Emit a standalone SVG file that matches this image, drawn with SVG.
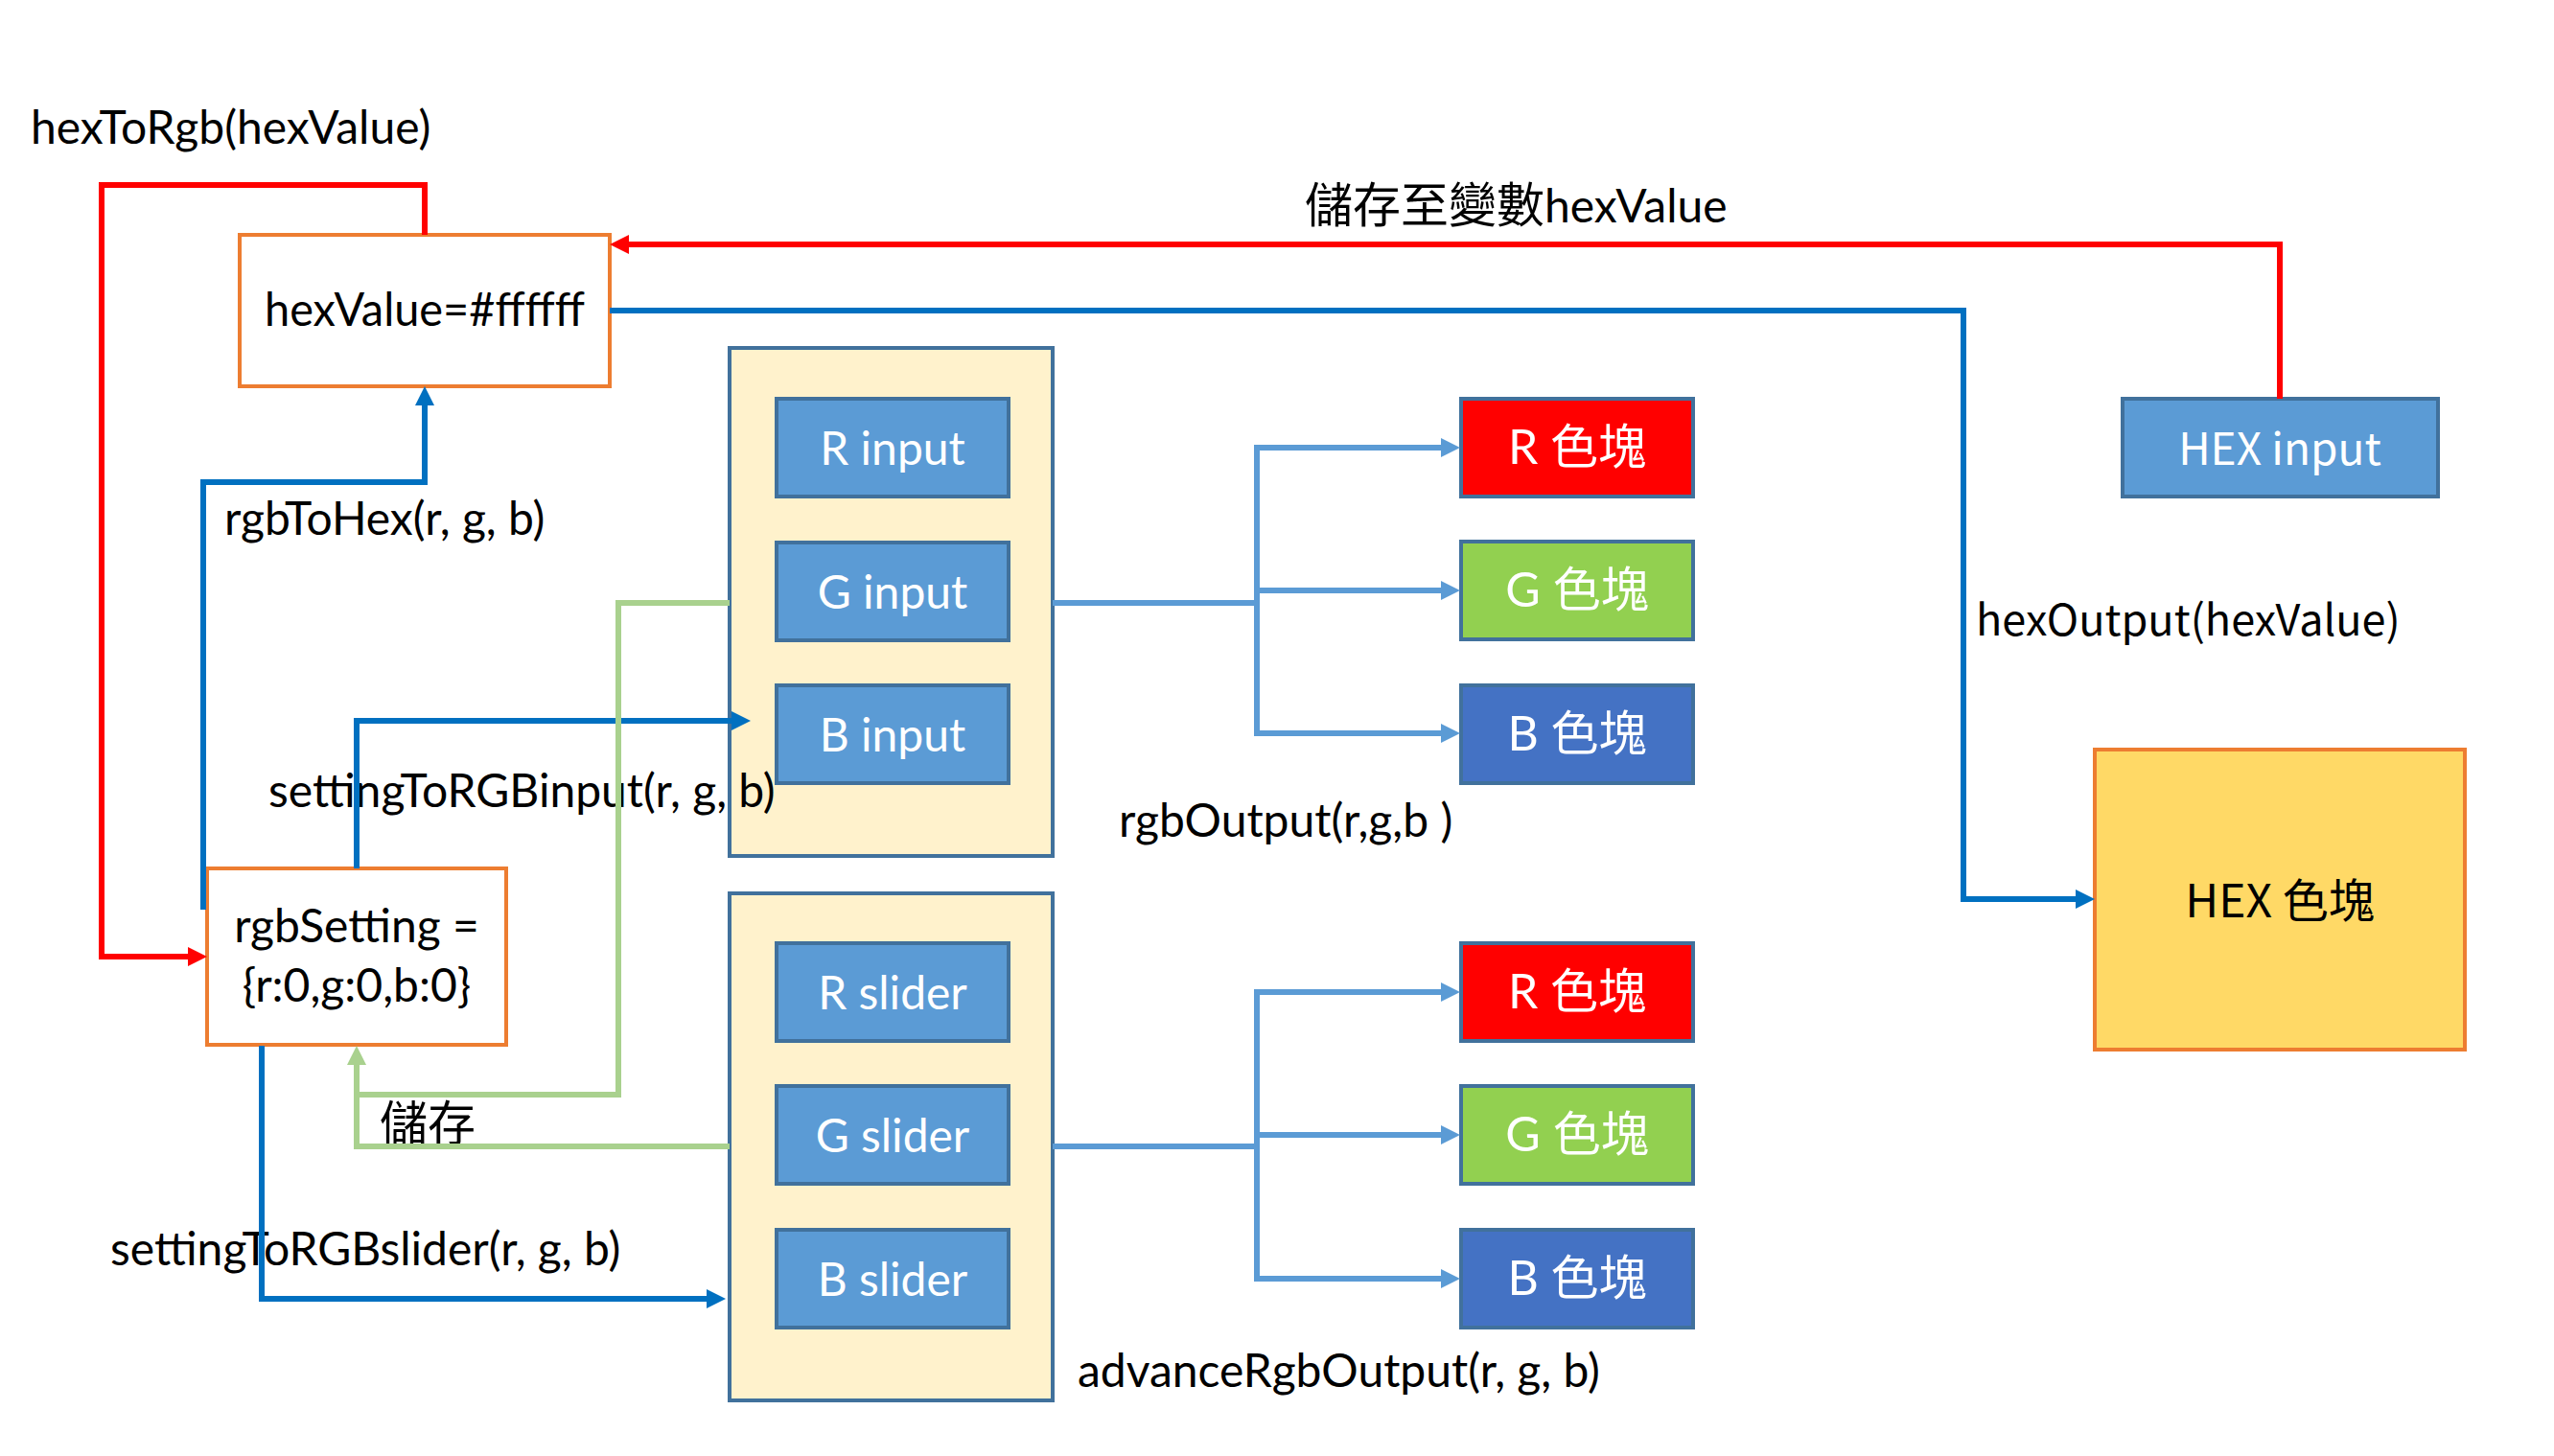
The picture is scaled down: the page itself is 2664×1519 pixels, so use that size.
<svg xmlns="http://www.w3.org/2000/svg" width="2664" height="1519" viewBox="0 0 2664 1519">
<defs>
<style>
.t{font-family:Lato,"Noto Sans CJK TC",sans-serif;font-size:48px;fill:#000}
.b50{font-size:50px}
.w{fill:#fff}
.j{font-family:"Noto Sans CJK TC","Noto Sans",sans-serif;font-size:48px}
.c{text-anchor:middle}
.var{fill:#fff;stroke:#ED7D31;stroke-width:4}
.ctr{fill:#FFF2CC;stroke:#41719C;stroke-width:4}
.inp{fill:#5B9BD5;stroke:#41719C;stroke-width:4}
.blk{stroke:#41719C;stroke-width:4}
.ln{fill:none;stroke-width:6;stroke-linejoin:miter}
.red{stroke:#FF0000}
.blu{stroke:#0070C0}
.grn{stroke:#A9D18E}
.lb{stroke:#5B9BD5}
</style>
<marker id="aR" viewBox="0 0 20 20" refX="8" refY="10" markerWidth="20" markerHeight="20" markerUnits="userSpaceOnUse" orient="auto"><path d="M0,0L20,10L0,20z" fill="#FF0000"/></marker>
<marker id="aB" viewBox="0 0 20 20" refX="8" refY="10" markerWidth="20" markerHeight="20" markerUnits="userSpaceOnUse" orient="auto"><path d="M0,0L20,10L0,20z" fill="#0070C0"/></marker>
<marker id="aG" viewBox="0 0 20 20" refX="8" refY="10" markerWidth="20" markerHeight="20" markerUnits="userSpaceOnUse" orient="auto"><path d="M0,0L20,10L0,20z" fill="#A9D18E"/></marker>
<marker id="aL" viewBox="0 0 20 20" refX="8" refY="10" markerWidth="20" markerHeight="20" markerUnits="userSpaceOnUse" orient="auto"><path d="M0,0L20,10L0,20z" fill="#5B9BD5"/></marker>
</defs>
<rect width="2664" height="1519" fill="#fff"/>

<g id="hexValue"><rect class="var" x="250" y="245" width="386" height="158"/><text class="t c" x="443" y="340" textLength="334" lengthAdjust="spacingAndGlyphs">hexValue=#ffffff</text></g>
<g id="rgbSetting"><rect class="var" x="216" y="906" width="312" height="184"/><text class="t c" x="372" y="983">rgbSetting =</text><text class="t c" x="372" y="1045">{r:0,g:0,b:0}</text></g>

<g id="rgbInputs"><rect class="ctr" x="761" y="363" width="337" height="530"/></g>
<g id="rInput"><rect class="inp" x="810" y="416" width="242" height="102"/><text class="t w c" x="931" y="485">R input</text></g>
<g id="gInput"><rect class="inp" x="810" y="566" width="242" height="102"/><text class="t w c" x="931" y="635">G input</text></g>
<g id="bInput"><rect class="inp" x="810" y="715" width="242" height="102"/><text class="t w c" x="931" y="784">B input</text></g>

<g id="rgbSliders"><rect class="ctr" x="761" y="932" width="337" height="529"/></g>
<g id="rSlider"><rect class="inp" x="810" y="984" width="242" height="102"/><text class="t w c" x="931" y="1053">R slider</text></g>
<g id="gSlider"><rect class="inp" x="810" y="1133" width="242" height="102"/><text class="t w c" x="931" y="1202">G slider</text></g>
<g id="bSlider"><rect class="inp" x="810" y="1283" width="242" height="102"/><text class="t w c" x="931" y="1352">B slider</text></g>

<g id="rBlock"><rect class="blk" fill="#FF0000" x="1524" y="416" width="242" height="102"/><text class="t b50 w c" x="1645" y="484">R 色塊</text></g>
<g id="gBlock"><rect class="blk" fill="#92D050" x="1524" y="565" width="242" height="102"/><text class="t b50 w c" x="1645" y="633">G 色塊</text></g>
<g id="bBlock"><rect class="blk" fill="#4472C4" x="1524" y="715" width="242" height="102"/><text class="t b50 w c" x="1645" y="783">B 色塊</text></g>

<g id="rBlock2"><rect class="blk" fill="#FF0000" x="1524" y="984" width="242" height="102"/><text class="t b50 w c" x="1645" y="1052">R 色塊</text></g>
<g id="gBlock2"><rect class="blk" fill="#92D050" x="1524" y="1133" width="242" height="102"/><text class="t b50 w c" x="1645" y="1201">G 色塊</text></g>
<g id="bBlock2"><rect class="blk" fill="#4472C4" x="1524" y="1283" width="242" height="102"/><text class="t b50 w c" x="1645" y="1351">B 色塊</text></g>

<g id="hexInput"><rect class="inp" x="2214" y="416" width="329" height="102"/><text class="j w c" x="2378" y="485" style="font-size:46px">HEX input</text></g>
<g id="hexBlock"><rect fill="#FFD966" stroke="#ED7D31" stroke-width="4" x="2185" y="782" width="386" height="313"/><text class="j c" x="2378" y="957">HEX 色塊</text></g>

<g id="labels">
<text class="t" x="32" y="150">hexToRgb(hexValue)</text>
<text class="t b50" x="1361" y="232">儲存至變數<tspan style="font-size:48px">hexValue</tspan></text>
<text class="t" x="234" y="558">rgbToHex(r, g, b)</text>
<text class="t" x="280" y="842">settingToRGBinput(r, g, b)</text>
<text class="t" x="115" y="1320">settingToRGBslider(r, g, b)</text>
<text class="t b50" x="396" y="1190">儲存</text>
<text class="t" x="1167" y="873">rgbOutput(r,g,b )</text>
<text class="t" x="1124" y="1447">advanceRgbOutput(r, g, b)</text>
<text class="j" x="2061" y="663" style="font-size:45px">hexOutput(hexValue)</text>
</g>

<g id="connectors">
<polyline class="ln red" points="443,245 443,193 106,193 106,998 204,998" marker-end="url(#aR)"/>
<polyline class="ln red" points="2378,416 2378,255 648,255" marker-end="url(#aR)"/>
<polyline class="ln blu" points="212,949 212,503 443,503 443,415" marker-end="url(#aB)"/>
<polyline class="ln blu" points="372,906 372,752 771,752" marker-end="url(#aB)"/>
<polyline class="ln blu" points="273,1091 273,1355 745,1355" marker-end="url(#aB)"/>
<polyline class="ln blu" points="636,324 2048,324 2048,938 2173,938" marker-end="url(#aB)"/>
<polyline class="ln grn" points="761,629 645,629 645,1142 372,1142"/>
<polyline class="ln grn" points="761,1196 372,1196 372,1103" marker-end="url(#aG)"/>
<path class="ln lb" d="M1098,629H1311M1311,464V768"/>
<path class="ln lb" d="M1311,467H1511" marker-end="url(#aL)"/>
<path class="ln lb" d="M1311,616H1511" marker-end="url(#aL)"/>
<path class="ln lb" d="M1311,765H1511" marker-end="url(#aL)"/>
<path class="ln lb" d="M1098,1196H1311M1311,1032V1337"/>
<path class="ln lb" d="M1311,1035H1511" marker-end="url(#aL)"/>
<path class="ln lb" d="M1311,1184H1511" marker-end="url(#aL)"/>
<path class="ln lb" d="M1311,1334H1511" marker-end="url(#aL)"/>
</g>
</svg>
